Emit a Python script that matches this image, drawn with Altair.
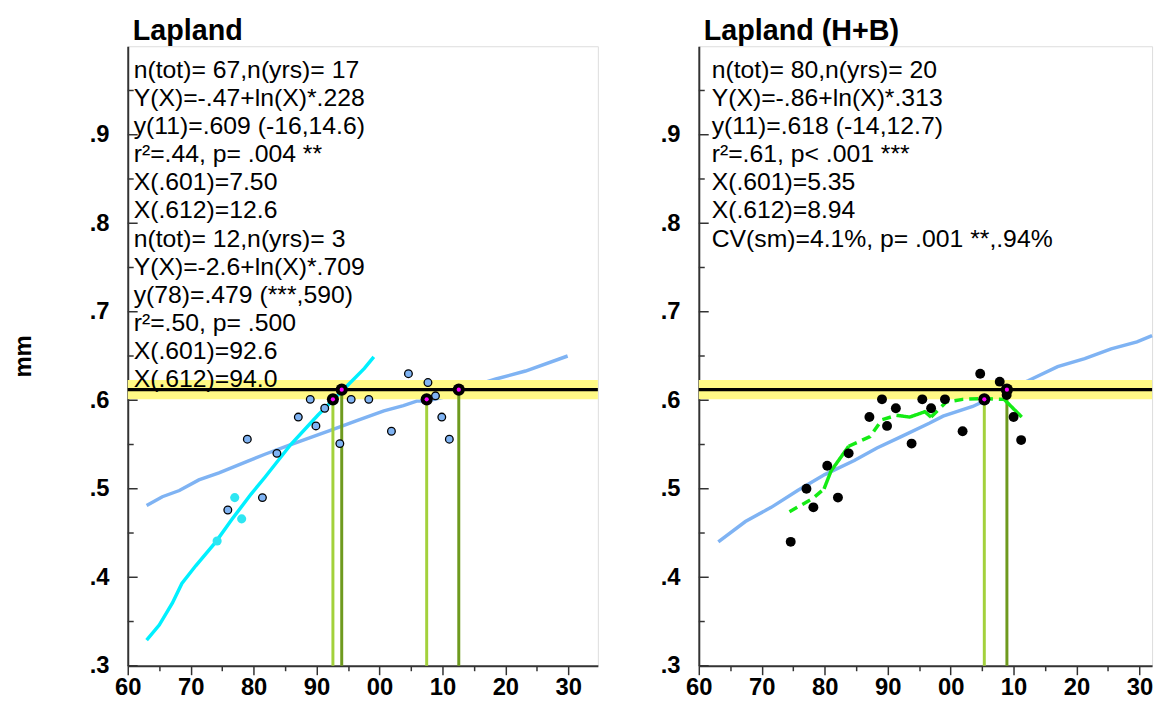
import altair as alt
import pandas as pd

FONT = "Liberation Sans"

# ---------------- data: left panel "Lapland" ----------------
L_blue_year = [1963.0, 1965.5, 1968.2, 1971.3, 1974.5, 1978.7, 1981.8, 1985.9, 1990.2, 1992.2,
               1996.4, 2000.7, 2003.8, 2005.9, 2007.5, 2010.6, 2013.7, 2015.3, 2018.5, 2023.2, 2029.9]
L_blue_val = [0.481, 0.491, 0.498, 0.510, 0.518, 0.530, 0.539, 0.550, 0.561, 0.566,
              0.577, 0.588, 0.594, 0.599, 0.599, 0.604, 0.613, 0.617, 0.624, 0.633, 0.650]

L_cyan_year = [1963.0, 1965.0, 1967.1, 1968.6, 1970.8, 1974.0, 1976.5, 1979.6, 1981.8,
               1985.9, 1990.2, 1994.4, 1997.6, 1999.1]
L_cyan_val = [0.329, 0.346, 0.371, 0.393, 0.413, 0.440, 0.465, 0.494, 0.513,
              0.550, 0.583, 0.613, 0.636, 0.649]

L_pts_year = [1975.9, 1979.0, 1981.4, 1983.7, 1987.1, 1989.0, 1989.9, 1991.3, 1993.7,
              1995.5, 1998.3, 2001.9, 2004.6, 2007.7, 2008.9, 2009.9, 2011.1]
L_pts_val = [0.476, 0.556, 0.490, 0.540, 0.581, 0.601, 0.571, 0.591, 0.551,
             0.601, 0.601, 0.565, 0.630, 0.620, 0.605, 0.581, 0.556]

L_cpts_year = [1974.2, 1977.0, 1978.1]
L_cpts_val = [0.441, 0.490, 0.466]

L_cross_year = [1992.6, 1994.0, 2007.5, 2012.6]
L_cross_val = [0.601, 0.612, 0.601, 0.612]
L_cross_kind = ["lo", "hi", "lo", "hi"]

L_lines = ["n(tot)= 67,n(yrs)= 17", "Y(X)=-.47+ln(X)*.228", "y(11)=.609 (-16,14.6)",
           "r²=.44, p= .004 **", "X(.601)=7.50", "X(.612)=12.6",
           "n(tot)= 12,n(yrs)= 3", "Y(X)=-2.6+ln(X)*.709", "y(78)=.479 (***,590)",
           "r²=.50, p= .500", "X(.601)=92.6", "X(.612)=94.0"]

# ---------------- data: right panel "Lapland (H+B)" ----------------
R_blue_year = [1963.1, 1967.4, 1971.5, 1975.7, 1980.0, 1984.7, 1988.3, 1991.9, 1996.6, 1998.8,
               2003.5, 2007.1, 2008.7, 2012.3, 2017.0, 2021.3, 2025.5, 2029.6, 2032.0]
R_blue_val = [0.440, 0.463, 0.479, 0.498, 0.516, 0.532, 0.546, 0.558, 0.574, 0.582,
              0.593, 0.605, 0.611, 0.622, 0.638, 0.647, 0.658, 0.666, 0.673]

R_pts_year = [1974.6, 1977.1, 1978.2, 1980.4, 1982.1, 1983.8, 1987.1, 1989.1, 1989.9, 1991.3,
              1993.8, 1995.5, 1996.9, 1999.1, 2001.9, 2004.7, 2007.8, 2008.9, 2010.0, 2011.2]
R_pts_val = [0.440, 0.500, 0.479, 0.526, 0.490, 0.540, 0.581, 0.601, 0.571, 0.591,
             0.551, 0.601, 0.591, 0.601, 0.565, 0.630, 0.621, 0.606, 0.581, 0.555]

R_smooth_year = [1974.4, 1978.1, 1979.9, 1981.0, 1983.8, 1987.2, 1989.1, 1991.4, 1993.5,
                 1995.9, 1996.9, 1999.3, 2001.9, 2005.1, 2008.5, 2011.3]
R_smooth_val = [0.474, 0.489, 0.500, 0.520, 0.548, 0.559, 0.578, 0.583, 0.581,
                0.587, 0.581, 0.598, 0.601, 0.602, 0.601, 0.581]
# segment breaks: dashed / solid alternating
R_smooth_breaks = [1979.9, 1983.8, 1991.4, 1996.9, 2008.5]

R_cross_year = [2005.35, 2008.94]
R_cross_val = [0.601, 0.612]
R_cross_kind = ["lo", "hi"]

R_lines = ["n(tot)= 80,n(yrs)= 20", "Y(X)=-.86+ln(X)*.313", "y(11)=.618 (-14,12.7)",
           "r²=.61, p< .001 ***", "X(.601)=5.35", "X(.612)=8.94",
           "CV(sm)=4.1%, p= .001 **,.94%"]

TARGET_LO, TARGET, TARGET_HI = 0.601, 0.612, 0.623
Y_MAJOR = [0.3, 0.4, 0.5, 0.6, 0.7, 0.8, 0.9]
Y_MINOR = [0.35, 0.45, 0.55, 0.65, 0.75, 0.85, 0.95]
X_TICKS = list(range(1960, 2035, 5))
YMAX = 1.0
PLOT_H = 626

AXIS_COL = "#333333"
BLUE = "#7fb3f3"
CYAN = "#00f0ff"
YELLOW = "#fff985"
LIGHT_G = "#a3d13c"
DARK_G = "#6e9a1e"
GREEN = "#14eb14"


def smooth_segments():
    rows = []
    for i in range(len(R_smooth_year) - 1):
        y0, y1 = R_smooth_year[i], R_smooth_year[i + 1]
        seg = sum(1 for b in R_smooth_breaks if b <= y0)
        style = "dash" if seg % 2 == 0 else "solid"
        rows.append({"year": y0, "val": R_smooth_val[i], "seg": seg, "style": style, "o": i})
        rows.append({"year": y1, "val": R_smooth_val[i + 1], "seg": seg, "style": style, "o": i + 1})
    return pd.DataFrame(rows)


def panel(title, lines, xmax, width, mm_title, text_dx, blue, extra):
    xs = alt.Scale(domain=[1960, xmax], nice=False, zero=False)
    ys = alt.Scale(domain=[0.3, YMAX], nice=False, zero=False)
    xaxis = alt.Axis(values=X_TICKS, title=None, grid=False,
                     labelExpr="datum.value % 10 == 0 ? format(datum.value % 100, '02d') : ''",
                     tickSize={"condition": {"test": "datum.value % 10 == 0", "value": 9}, "value": 5},
                     tickColor=AXIS_COL, tickWidth=1.5, domainColor=AXIS_COL, domainWidth=2,
                     labelFont=FONT, labelFontSize=24, labelFontWeight="bold", labelColor="black",
                     labelPadding=1, labelFlush=False)
    yaxis_kw = dict(values=Y_MAJOR, grid=False, ticks=False, tickSize=0,
                    labelExpr="replace(format(datum.value, '.1f'), '0.', '.')",
                    domainColor=AXIS_COL, domainWidth=2,
                    labelFont=FONT, labelFontSize=24, labelFontWeight="bold", labelColor="black",
                    labelPadding=19)
    if mm_title:
        yaxis = alt.Axis(title="mm", titleFont=FONT, titleFontSize=24, titleFontWeight="bold",
                         titleColor="black", titlePadding=54, **yaxis_kw)
    else:
        yaxis = alt.Axis(title=None, **yaxis_kw)

    X = lambda f: alt.X(f, type="quantitative", scale=xs, axis=xaxis)
    Y = lambda f: alt.Y(f, type="quantitative", scale=ys, axis=yaxis)

    one = pd.DataFrame({"a": [0]})
    band = alt.Chart(pd.DataFrame({"lo": [TARGET_LO], "hi": [TARGET_HI]})).mark_rect(
        color=YELLOW, opacity=1).encode(
        x=alt.X(datum=1960, type="quantitative", scale=xs, axis=xaxis),
        x2=alt.X2(datum=xmax), y=Y("lo"), y2="hi:Q")
    hline = alt.Chart(one).mark_rule(color="black", strokeWidth=3.5).encode(
        y=alt.Y(datum=TARGET, type="quantitative", scale=ys, axis=yaxis))
    ymaj = alt.Chart(pd.DataFrame({"v": Y_MAJOR})).mark_rule(color=AXIS_COL, strokeWidth=1.5).encode(
        y=Y("v"), x=alt.value(0), x2=alt.value(10))
    ymin = alt.Chart(pd.DataFrame({"v": Y_MINOR})).mark_rule(color=AXIS_COL, strokeWidth=1.5).encode(
        y=Y("v"), x=alt.value(0), x2=alt.value(6))
    bl = alt.Chart(pd.DataFrame({"year": blue[0], "val": blue[1]})).mark_line(
        color=BLUE, strokeWidth=3.5).encode(x=X("year"), y=Y("val"))
    txt = alt.Chart(one).mark_text(text=lines, align="left", baseline="alphabetic", font=FONT,
                                   fontSize=25, lineHeight=28.4, color="black").encode(
        x=alt.value(text_dx), y=alt.value(32))
    ttl = alt.Chart(one).mark_text(text=title, align="left", baseline="alphabetic", font=FONT,
                                   fontSize=29, fontWeight="bold", color="black").encode(
        x=alt.value(5), y=alt.value(-6))
    layers = [band, hline, ymaj, ymin] + extra(X, Y) + [txt, ttl]
    return alt.layer(bl, *layers).properties(width=width, height=PLOT_H)


def cross_layers(X, Y, years, vals, kinds):
    df = pd.DataFrame({"year": years, "val": vals, "kind": kinds, "base": [0.3] * len(years)})
    vl = alt.Chart(df).mark_rule(strokeWidth=3).encode(
        x=X("year"), y=Y("val"), y2="base:Q",
        color=alt.Color("kind:N", scale=alt.Scale(domain=["lo", "hi"], range=[LIGHT_G, DARK_G]), legend=None))
    ring = alt.Chart(df).mark_point(shape="circle", filled=True, color="black", size=150, opacity=1).encode(
        x=X("year"), y=Y("val"))
    dot = alt.Chart(df).mark_point(shape="circle", filled=True, color="#ff00ff", size=18, opacity=1).encode(
        x=X("year"), y=Y("val"))
    return vl, ring, dot


def left_extra(X, Y):
    vl, ring, dot = cross_layers(X, Y, L_cross_year, L_cross_val, L_cross_kind)
    cy = alt.Chart(pd.DataFrame({"year": L_cyan_year, "val": L_cyan_val})).mark_line(
        color=CYAN, strokeWidth=3.5).encode(x=X("year"), y=Y("val"))
    pts = alt.Chart(pd.DataFrame({"year": L_pts_year, "val": L_pts_val})).mark_point(
        shape="circle", filled=True, fill=BLUE, stroke="black", strokeWidth=1.3, size=60, opacity=1).encode(
        x=X("year"), y=Y("val"))
    cpts = alt.Chart(pd.DataFrame({"year": L_cpts_year, "val": L_cpts_val})).mark_point(
        shape="circle", filled=True, color="#2ee6f2", size=85, opacity=1).encode(
        x=X("year"), y=Y("val"))
    return [vl, cy, pts, cpts, ring, dot]


def right_extra(X, Y):
    vl, ring, dot = cross_layers(X, Y, R_cross_year, R_cross_val, R_cross_kind)
    sm = alt.Chart(smooth_segments()).mark_line(color=GREEN, strokeWidth=3.5).encode(
        x=X("year"), y=Y("val"), detail="seg:N", order="o:Q",
        strokeDash=alt.StrokeDash("style:N", scale=alt.Scale(domain=["dash", "solid"], range=[[9, 6], [1, 0]]),
                                  legend=None))
    pts = alt.Chart(pd.DataFrame({"year": R_pts_year, "val": R_pts_val})).mark_point(
        shape="circle", filled=True, color="black", size=100, opacity=1).encode(
        x=X("year"), y=Y("val"))
    return [vl, sm, pts, ring, dot]


left = panel("Lapland", L_lines, 2034.7, 475, True, 6, (L_blue_year, L_blue_val), left_extra)
right = panel("Lapland (H+B)", R_lines, 2032.0, 458, False, 13, (R_blue_year, R_blue_val), right_extra)

chart = alt.hconcat(left, right, spacing=59).properties(
    padding={"left": 3, "top": 5, "right": 0, "bottom": 0}
).configure_view(stroke=None).configure(background="white")

chart.save("out.html", embed_options={"renderer": "svg", "actions": False})
